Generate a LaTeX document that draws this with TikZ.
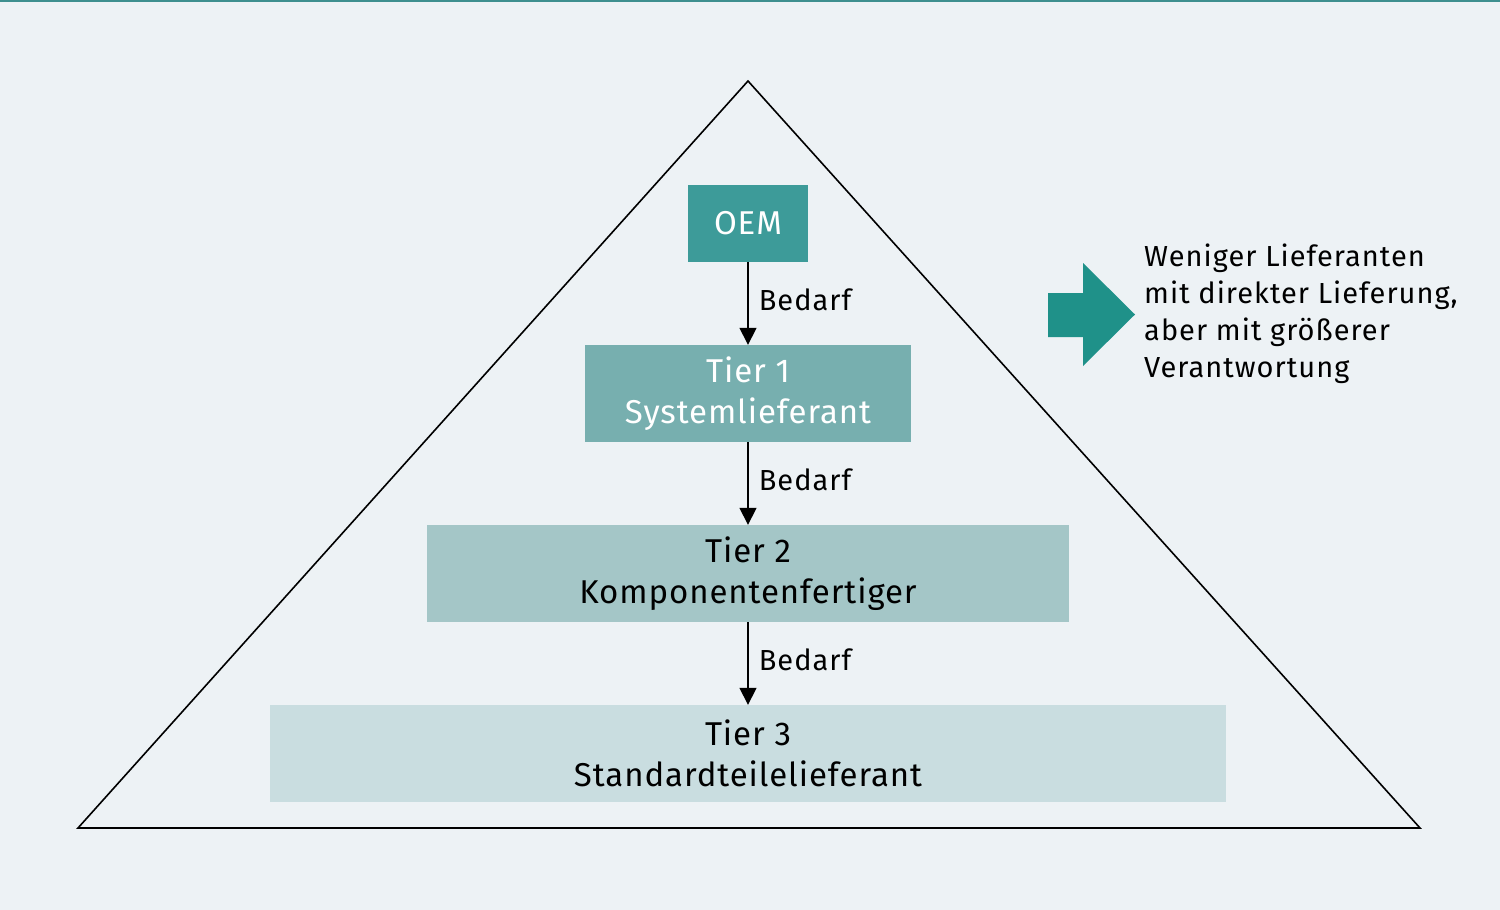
\documentclass[tikz,border=0pt]{standalone}
\usepackage{fontspec}
\setmainfont{Fira Sans}
\newfontfamily\boxfont[LetterSpace=2.8]{Fira Sans}
\newfontfamily\notefont[LetterSpace=3.5]{Fira Sans}
\usetikzlibrary{arrows.meta, positioning}
\definecolor{bgfill}{HTML}{EDF2F5}
\definecolor{topline}{HTML}{3E8F8F}
\definecolor{oemfill}{HTML}{3D9B99}
\definecolor{tieronefill}{HTML}{77AFAF}
\definecolor{tiertwofill}{HTML}{A4C6C7}
\definecolor{tierthreefill}{HTML}{C9DDE0}
\definecolor{arrowfill}{HTML}{1F9189}
\tikzset{
    tierbox/.style={
        rectangle,
        draw=none,
        inner sep=0pt,
        align=center,
        minimum height=97pt,
        font=\boxfont\fontsize{33}{41}\selectfont
    },
    flow/.style={
        draw=black,
        line width=1.6pt,
        -{Triangle[width=17pt,length=17pt]}
    },
    lbl/.style={
        font=\notefont\fontsize{29}{32}\selectfont,
        right,
        inner sep=0pt,
        xshift=10pt,
        yshift=4pt
    }
}
\begin{document}
\begin{tikzpicture}[x=1pt, y=-1pt]

% Background
\fill[bgfill] (0,0) rectangle (1500,910);
\useasboundingbox (0,0) rectangle (1500,910);
\fill[topline] (0,0) rectangle (1500,2);

% Pyramid
\coordinate (apex) at (748,81);
\coordinate (baseleft) at (78,828);
\coordinate (baseright) at (1420,828);
\draw[line width=1.6pt, line join=miter] (apex) -- (baseleft) -- (baseright) -- cycle;

% Tiers
\node[tierbox, fill=oemfill, text=white, minimum width=120pt, minimum height=77pt] (oem) at (748,223.5) {OEM};
\node[tierbox, fill=tieronefill, text=white, minimum width=326pt] (tier1) at (748,393.5) {Tier 1\\Systemlieferant};
\node[tierbox, fill=tiertwofill, text=black, minimum width=642pt] (tier2) at (748,573.5) {Tier 2\\Komponentenfertiger};
\node[tierbox, fill=tierthreefill, text=black, minimum width=956pt] (tier3) at (748,753.5) {Tier 3\\Standardteilelieferant};

% Connections
\draw[flow] (oem.south) -- node[lbl] {Bedarf} (tier1.north);
\draw[flow] (tier1.south) -- node[lbl] {Bedarf} (tier2.north);
\draw[flow] (tier2.south) -- node[lbl] {Bedarf} (tier3.north);

% Side note
\fill[arrowfill] (1048,293) -- (1083,293) -- (1083,263) -- (1135,314.5) -- (1083,366) -- (1083,337) -- (1048,337) -- cycle;
\coordinate (notepoint) at (1144,314);
\node[anchor=west, inner sep=0pt, align=left, font=\notefont\fontsize{29}{37}\selectfont] (note) at (notepoint) {Weniger Lieferanten\\mit direkter Lieferung,\\aber mit größerer\\Verantwortung};

\end{tikzpicture}
\end{document}
